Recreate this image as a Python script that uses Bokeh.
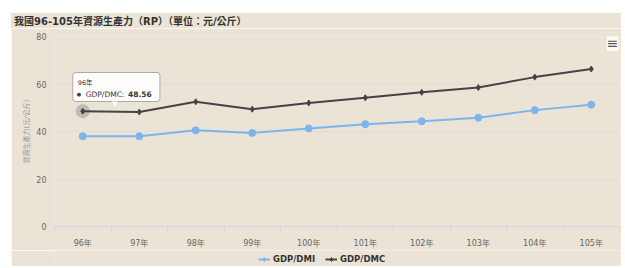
from bokeh.plotting import figure
from bokeh.layouts import column, row
from bokeh.models import Range1d, FixedTicker, Legend, LegendItem, Label, Spacer, Div
from bokeh.embed import file_html
from bokeh.resources import INLINE

years = ["96年", "97年", "98年", "99年", "100年", "101年", "102年", "103年", "104年", "105年"]
dmi = [38.0, 38.0, 40.5, 39.4, 41.3, 43.1, 44.3, 45.8, 49.0, 51.3]
dmc = [48.56, 48.2, 52.5, 49.4, 52.0, 54.2, 56.5, 58.5, 62.9, 66.3]
y_ticks = [0, 20, 40, 60, 80]
series_names = ["GDP/DMI", "GDP/DMC"]
title_text = "我國96-105年資源生產力（RP）（單位：元/公斤）"
y_title = "資源生產力(元/公斤)"

BG = "#ebe3d5"
C_DMI = "#7cb5ec"
C_DMC = "#434348"
FONT = "DejaVu Sans, Noto Sans CJK TC"
W = 610

xs = list(range(len(years)))

title = Div(text=title_text, width=W, height=15, margin=(0, 0, 0, 0),
            styles={"background-color": BG, "font-family": FONT, "font-size": "10px",
                    "font-weight": "bold", "color": "#333333", "line-height": "17px",
                    "text-indent": "3px", "white-space": "nowrap"})

p = figure(width=W, height=222, output_backend="svg", toolbar_location=None,
           x_range=Range1d(-0.5, len(years) - 0.5), y_range=Range1d(0, 80),
           background_fill_color=BG, border_fill_color=BG, outline_line_color=None,
           min_border_left=43, min_border_right=2, min_border_top=8, min_border_bottom=22)

# lines
p.line(xs, dmi, line_color=C_DMI, line_width=2)
p.scatter(xs, dmi, marker="circle", size=7, fill_color=C_DMI, line_color=C_DMI)
p.scatter([xs[0]], [dmc[0]], marker="circle", size=14, fill_color=C_DMC, fill_alpha=0.25, line_color=None)
p.line(xs, dmc, line_color=C_DMC, line_width=2)
p.scatter(xs, dmc, marker="diamond", size=6, fill_color=C_DMC, line_color=C_DMC)

# axes
xa = p.xaxis[0]
xa.ticker = FixedTicker(ticks=xs, minor_ticks=[i - 0.5 for i in range(len(years) + 1)])
xa.major_label_overrides = {i: y for i, y in enumerate(years)}
xa.axis_line_color = "#ccd6eb"
xa.major_tick_line_color = None
xa.major_tick_out = 0
xa.major_tick_in = 0
xa.minor_tick_line_color = "#ccd6eb"
xa.minor_tick_out = 5
xa.minor_tick_in = 0
xa.major_label_text_font = FONT
xa.major_label_text_font_size = "8px"
xa.major_label_text_color = "#666666"
xa.major_label_standoff = 7

ya = p.yaxis[0]
ya.ticker = FixedTicker(ticks=y_ticks)
ya.axis_line_color = None
ya.major_tick_line_color = None
ya.minor_tick_line_color = None
ya.major_tick_out = 0
ya.major_label_text_font = FONT
ya.major_label_text_font_size = "8px"
ya.major_label_text_color = "#666666"
ya.major_label_standoff = 8
ya.axis_label = y_title
ya.axis_label_text_font = FONT
ya.axis_label_text_font_size = "7px"
ya.axis_label_text_font_style = "normal"
ya.axis_label_text_color = "#999999"
ya.axis_label_standoff = 2

p.xgrid.grid_line_color = None
p.ygrid.grid_line_color = "#e2dcd4"

# tooltip (hovered first point of GDP/DMC)
box = Label(x=xs[0], y=dmc[0], x_offset=-10, y_offset=9.7, text="● GDP/DMC: 48.56",
            text_font=FONT, text_font_size="8px", text_color="white",
            text_align="left", text_baseline="bottom",
            background_fill_color="white", background_fill_alpha=0.92,
            border_line_color="#aaaaaa", border_line_width=1,
            padding=dict(left=6, right=5, top=16, bottom=4), border_radius=3)
p.add_layout(box)
p.add_layout(Label(x=xs[0], y=dmc[0], x_offset=32, y_offset=7.5, text="▼",
                   text_font=FONT, text_font_size="7px", text_color="white",
                   text_align="center", text_baseline="middle"))
p.add_layout(Label(x=xs[0], y=dmc[0], x_offset=-6, y_offset=17, text="●",
                   text_font=FONT, text_font_size="5px", text_color=C_DMC,
                   text_align="left", text_baseline="middle"))
p.add_layout(Label(x=xs[0], y=dmc[0], x_offset=3, y_offset=17, text=series_names[1] + ": ",
                   text_font=FONT, text_font_size="7.5px", text_color="#333333",
                   text_align="left", text_baseline="middle"))
p.add_layout(Label(x=xs[0], y=dmc[0], x_offset=69, y_offset=17, text=f"{dmc[0]:.2f}",
                   text_font=FONT, text_font_size="7.5px", text_font_style="bold",
                   text_color="#333333", text_align="right", text_baseline="middle"))
p.add_layout(Label(x=xs[0], y=dmc[0], x_offset=-5, y_offset=27.7, text=years[0],
                   text_font=FONT, text_font_size="6.5px", text_color="#333333",
                   text_align="left", text_baseline="middle"))

# context menu icon
p.add_layout(Label(x=len(years) - 0.5, y=80, x_offset=-7, y_offset=-6.5, text="≡",
                   text_font=FONT, text_font_size="14px", text_color="#555555",
                   text_align="center", text_baseline="middle",
                   background_fill_color="white", background_fill_alpha=0.8))

# legend strip (separate figure below the chart; its glyphs lie outside its ranges)
lg = figure(width=W, height=16, output_backend="svg", toolbar_location=None,
            x_range=Range1d(100, 101), y_range=Range1d(100, 101),
            x_axis_type=None, y_axis_type=None,
            background_fill_color=BG, border_fill_color=BG, outline_line_color=None,
            min_border=0)
lg.xgrid.grid_line_color = None
lg.ygrid.grid_line_color = None
l1 = lg.line(xs, dmi, line_color=C_DMI, line_width=2)
m1 = lg.scatter(xs, dmi, marker="diamond", size=7, fill_color=C_DMI, line_color=C_DMI)
l2 = lg.line(xs, dmc, line_color=C_DMC, line_width=2)
m2 = lg.scatter(xs, dmc, marker="diamond", size=6, fill_color=C_DMC, line_color=C_DMC)
legend = Legend(items=[LegendItem(label=series_names[0], renderers=[l1, m1]),
                       LegendItem(label=series_names[1], renderers=[l2, m2])],
                orientation="horizontal", location=(204, 2),
                background_fill_alpha=0, border_line_color=None,
                label_text_font=FONT, label_text_font_size="8.5px",
                label_text_font_style="bold", label_text_color="#333333",
                glyph_width=12, glyph_height=10, label_standoff=3, spacing=10,
                padding=0, margin=0, label_height=10)
lg.add_layout(legend)

layout = column(Spacer(height=13), row(Spacer(width=11), column(title, p, lg)))
open("out.html", "w").write(file_html(layout, INLINE))
